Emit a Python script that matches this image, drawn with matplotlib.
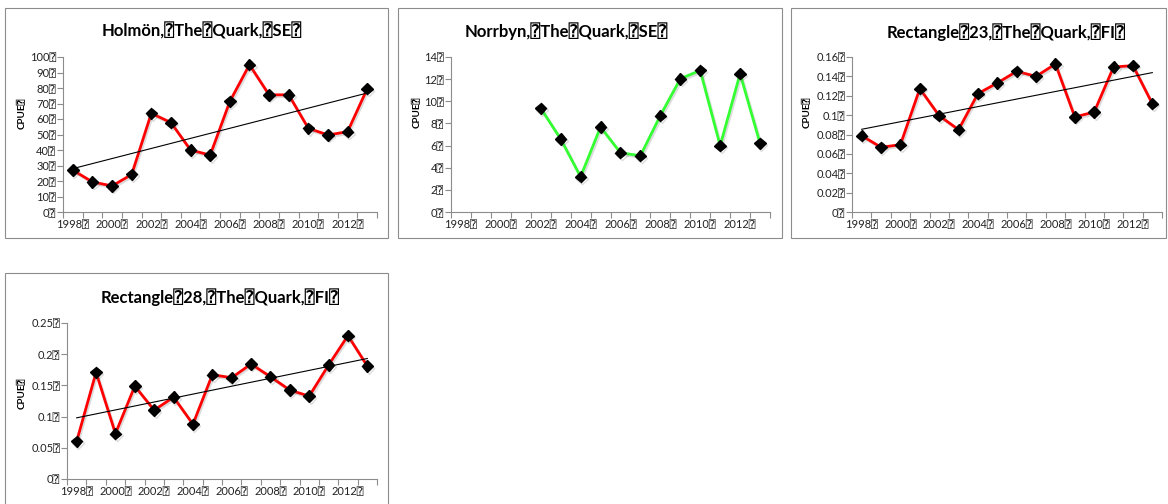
import numpy as np
import matplotlib
matplotlib.use("Agg")
import matplotlib.pyplot as plt
from matplotlib.patches import Rectangle
import matplotlib.patheffects as pe

W, H = 1168, 504
BOX = "\u2370"

years = list(range(1998, 2014))
year_labels = [f"{y}{BOX}" if (y - 1998) % 2 == 0 else "" for y in years]

holmon = [27.0, 19.4, 16.8, 24.2, 63.7, 57.7, 40.0, 36.7, 71.3, 95.0, 75.6, 75.6, 54.0, 49.7, 51.8, 79.5]
norrbyn = [np.nan, np.nan, np.nan, np.nan, 9.37, 6.6, 3.18, 7.68, 5.35, 5.08, 8.71, 12.03, 12.79, 5.99, 12.49, 6.2]
rect23 = [0.0788, 0.0668, 0.0695, 0.1273, 0.0994, 0.085, 0.1222, 0.1332, 0.1452, 0.140, 0.1528, 0.0981, 0.1032, 0.1497, 0.1511, 0.1118]
rect28 = [0.0605, 0.1709, 0.0728, 0.1489, 0.1103, 0.1312, 0.0878, 0.1671, 0.1623, 0.1843, 0.1639, 0.1425, 0.1328, 0.1826, 0.2298, 0.181]

titles = [
    f"Holmön,{BOX}The{BOX}Quark,{BOX}SE{BOX}",
    f"Norrbyn,{BOX}The{BOX}Quark,{BOX}SE{BOX}",
    f"Rectangle{BOX}23,{BOX}The{BOX}Quark,{BOX}FI{BOX}",
    f"Rectangle{BOX}28,{BOX}The{BOX}Quark,{BOX}FI{BOX}",
]
ylabel = f"CPUE{BOX}"

y_ticks_1 = [0, 10, 20, 30, 40, 50, 60, 70, 80, 90, 100]
y_ticks_2 = [0, 2, 4, 6, 8, 10, 12, 14]
y_ticks_3 = [0, 0.02, 0.04, 0.06, 0.08, 0.1, 0.12, 0.14, 0.16]
y_ticks_4 = [0, 0.05, 0.1, 0.15, 0.2, 0.25]

plt.rcParams["font.family"] = ["Lato", "DejaVu Sans", "DejaVu Sans Mono"]

fig = plt.figure(figsize=(W / 100, H / 100), dpi=100)


def fx(x):
    return x / W


def fy(y):
    return 1 - y / H


def panel_frame(x0, y0, x1, y1):
    fig.patches.append(Rectangle((fx(x0), fy(y1)), fx(x1 - x0), (y1 - y0) / H,
                                 transform=fig.transFigure, fill=False,
                                 edgecolor="#8c8c8c", linewidth=0.8, zorder=0))


def fmt(v):
    s = f"{v:g}"
    return s + BOX


def make_axes(x0, y0, x1, y1, values, yticks, color, trend, title, title_xy, ylab_xy):
    ax = fig.add_axes([fx(x0), fy(y1), fx(x1 - x0), (y1 - y0) / H])
    n = len(years)
    xs = np.arange(n) + 0.5
    vals = np.array(values, dtype=float)
    shadow = [pe.SimpleLineShadow(offset=(1.0, -1.3), shadow_color="#777777", alpha=0.25),
              pe.Normal()]
    ax.plot(xs, vals, color=color, linewidth=2.0, zorder=3, path_effects=shadow)
    ax.plot(xs, vals, linestyle="none", marker="D", markersize=5.8,
            color="black", zorder=4, path_effects=shadow)
    if trend:
        ok = ~np.isnan(vals)
        k, b = np.polyfit(xs[ok], vals[ok], 1)
        ax.plot([xs[0], xs[-1]], [k * xs[0] + b, k * xs[-1] + b],
                color="black", linewidth=0.8, zorder=5)
    ax.set_xlim(0, n)
    ax.set_ylim(yticks[0], yticks[-1])
    ax.set_yticks(yticks)
    ax.set_yticklabels([fmt(v) for v in yticks])
    ax.set_xticks(np.arange(n + 1))
    ax.set_xticklabels([])
    ax.set_xticks(xs, minor=True)
    ax.set_xticklabels(year_labels, minor=True)
    ax.tick_params(axis="x", which="major", length=4, width=0.8, color="#8c8c8c", direction="out")
    ax.tick_params(axis="x", which="minor", length=0, pad=5, labelsize=8, labelcolor="#222222")
    ax.tick_params(axis="y", length=4, width=0.8, color="#8c8c8c", direction="out",
                   labelsize=8, labelcolor="#222222", pad=1)
    for s in ("top", "right"):
        ax.spines[s].set_visible(False)
    for s in ("left", "bottom"):
        ax.spines[s].set_color("#8c8c8c")
        ax.spines[s].set_linewidth(0.8)
    ax.patch.set_alpha(0)
    fig.text(fx(title_xy[0]), fy(title_xy[1]), title, ha="center", va="center",
             fontsize=12, fontweight="bold", color="black")
    fig.text(fx(ylab_xy[0]), fy(ylab_xy[1]), ylabel, ha="center", va="center",
             rotation=90, fontsize=7, fontweight="bold", color="black")
    return ax


panel_frame(5, 8, 388, 238)
panel_frame(398, 8, 782, 238)
panel_frame(791, 8, 1166, 238)
panel_frame(5, 273, 388, 510)

make_axes(63, 57, 377, 212, holmon, y_ticks_1, "#ff0000", True, titles[0], (202, 31), (22, 113))
make_axes(451, 57, 770, 212, norrbyn, y_ticks_2, "#33ff33", False, titles[1], (566, 31), (417, 112))
make_axes(852, 57, 1162, 212, rect23, y_ticks_3, "#ff0000", True, titles[2], (1006, 32), (807, 112))
make_axes(67, 323, 377, 479, rect28, y_ticks_4, "#ff0000", True, titles[3], (220, 297), (22, 393))

fig.savefig("out.png", dpi=100, facecolor="white")
